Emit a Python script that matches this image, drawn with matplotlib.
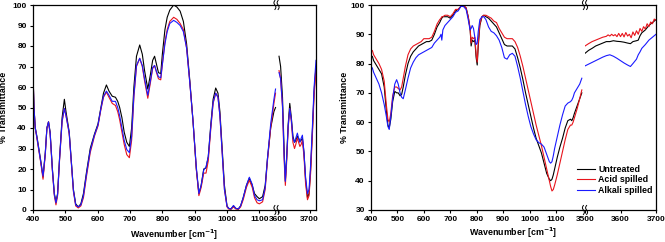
import numpy as np
import matplotlib
matplotlib.use("Agg")
import matplotlib.pyplot as plt
from matplotlib.lines import Line2D

plt.rcParams['font.family'] = ['Liberation Sans', 'DejaVu Sans']
plt.rcParams['font.weight'] = 'bold'
plt.rcParams['mathtext.default'] = 'bf'

# ---------------- Left panel data ----------------
L_wn = [400, 403, 407, 412, 418, 424, 431, 438, 443, 448, 453, 460, 466, 471, 476, 482, 490, 497, 502, 508,
        512, 518, 525, 532, 540, 548, 556, 565, 577, 590, 601, 610, 618, 627, 635, 645, 655, 662, 668, 675,
        682, 690, 698, 705, 712, 720, 730, 738, 745, 755, 763, 770, 776, 782, 788, 795, 800, 808, 815, 823,
        835, 845, 855, 865, 875, 885, 895, 905, 913, 920, 928, 935, 942, 950, 957, 965, 972, 978, 985, 992,
        1000, 1005, 1012, 1020, 1027, 1035, 1042, 1050, 1060, 1069, 1078, 1085, 1093, 1100, 1110, 1118, 1125, 1135, 1145, 1150]
L_black = [67, 50, 40, 36, 30, 24, 16, 28, 40, 43, 38, 20, 8, 4, 8, 25, 45, 54, 48, 42,
           38, 25, 10, 3, 1.5, 3, 8, 18, 30, 37, 42, 50, 57, 61, 58, 55.5, 55, 53, 50, 45,
           38, 33, 31, 40, 60, 75, 80.5, 76, 68, 59, 66, 73, 75, 71, 67, 66.5, 76, 88, 94, 97.5,
           100, 99, 97, 92, 81, 63, 43, 20, 8, 12, 20, 20.5, 26, 42, 54, 59.5, 57, 48, 30, 12,
           2, 0.8, 0.5, 2, 0.8, 0.5, 2, 6, 12, 15.5, 12, 8, 6.5, 5.5, 6.5, 12, 25, 40, 48, 50]
L_red = [67, 50, 40, 35, 29, 23, 15, 27, 40, 43, 37, 19, 7, 2.5, 7, 24, 43, 49.5, 46, 41,
         37, 24, 9, 2, 1, 2, 6, 16, 28, 36, 41, 49, 55, 57.5, 55, 52, 51, 48, 44, 38,
         32, 27, 25.5, 34, 55, 70, 74, 70, 63, 54.5, 62, 69, 70.5, 67, 64, 63.5, 71, 82, 88, 92,
         94, 93, 91, 88, 79, 62, 43, 20, 7, 11, 18, 18, 24, 40, 52, 57, 55, 46, 28, 10,
         1.5, 0.5, 0.3, 1.5, 0.5, 0.3, 1.5, 5, 11, 14.5, 11, 6, 3.5, 3, 4, 10, 24, 40, 52, 57]
L_blue = [67, 50, 40, 35.5, 29.5, 23.5, 16.5, 27.5, 40, 43, 37.5, 19.5, 7.5, 3.5, 7.5, 24.5, 43.5, 49.5, 46, 41,
          37.5, 24.5, 9.5, 2.5, 1.5, 2.5, 7, 17, 29, 36.5, 41.5, 49.5, 55.5, 58, 56, 53, 53, 50, 46, 40,
          34, 29.5, 28, 36, 56, 70.5, 74, 70.5, 64, 56, 63, 69.5, 70.5, 67.5, 65, 64.5, 71, 81, 87, 91,
          92.5, 91.5, 90, 87, 79, 62, 43, 21, 8, 12, 19.5, 21, 26, 41, 52.5, 57, 55, 46, 28, 10,
          1.8, 0.8, 0.5, 2.2, 0.8, 0.5, 2, 6, 12, 16, 12.5, 7, 5, 4.5, 5, 11, 25, 42, 54, 59]

L2_wn = [3603, 3608, 3614, 3619, 3623, 3627, 3632, 3637, 3642, 3647, 3652, 3656, 3661, 3665, 3669, 3673, 3677,
         3682, 3687, 3693, 3698, 3703, 3709, 3714, 3720]
L2_black = [75, 70, 55, 30, 14, 25, 42, 52, 45, 36, 33, 34, 36, 35, 33.5, 34, 35, 28, 15, 6, 8, 20, 40, 58, 70]
L2_red = [68, 64, 50, 25, 12, 23, 40, 49.5, 43, 33, 30, 32, 35, 33, 31, 32, 34, 26, 13, 5, 7, 18, 38, 56, 68]
L2_blue = [67, 64, 51, 27, 14, 25, 41, 49.5, 44, 35, 33, 35, 37.5, 35, 33, 35, 36.5, 28, 16, 8, 10, 22, 42, 60, 73]

# ---------------- Right panel data ----------------
R_wn = [400, 405, 410, 420, 430, 440, 450, 458, 464, 469, 475, 482, 490, 497, 503, 510, 516, 522, 530, 540,
        550, 560, 570, 580, 590, 600, 610, 620, 630, 640, 650, 660, 665, 668, 672, 680, 690, 700, 710, 720,
        730, 740, 750, 760, 768, 775, 779, 783, 788, 793, 798, 802, 806, 812, 820, 827, 835, 845, 855, 865,
        875, 885, 895, 905, 915, 925, 935, 945, 955, 965, 975, 985, 995, 1005, 1015, 1025, 1035, 1045, 1055, 1065,
        1075, 1080, 1085, 1090, 1095, 1105, 1115, 1125, 1135, 1145, 1155, 1160, 1165, 1170, 1180, 1190, 1198]
R_black = [82, 82.5, 81, 79.5, 78, 76.5, 72, 64, 59, 58, 61, 67, 70.5, 70, 70, 69, 69.5, 72, 76, 80,
           82.5, 84, 85, 86, 86.5, 87, 87.5, 87.5, 88, 90, 92.5, 94, 95, 95.5, 96, 96, 96, 95.5, 96.5, 98,
           98.5, 99.5, 99.8, 99, 96, 92, 86, 88, 87.5, 88, 82, 79.5, 86, 93, 96, 96.5, 96, 95.5, 94.5, 93.5,
           92.5, 90.5, 88.5, 86.5, 86, 86, 86, 85, 82, 78.5, 74.5, 70, 66, 62, 58, 54.5, 52, 49.5, 46, 42.5,
           40.5, 40, 40.5, 42, 44, 48, 51.5, 54.5, 58, 60.5, 61, 60.5, 61.5, 63, 65.5, 68, 70]
R_red = [84, 84.5, 83, 81.5, 80, 78, 74, 66, 61, 60, 63, 69, 72, 72, 71.5, 71, 72, 75, 79, 83,
         85, 86, 86.5, 87, 87.5, 88.5, 88.5, 88.5, 89, 91, 93.5, 95, 95.5, 96, 96, 96.5, 96.5, 96, 97, 98.5,
         98.5, 99.5, 100, 99, 96, 92, 87, 89, 88.5, 89, 83, 80.5, 87, 93.5, 96, 96.5, 96.5, 96, 95.5, 94.5,
         94, 92, 90.5, 89, 88.5, 88.5, 88.5, 87.5, 85.5, 82.5, 79, 75, 71, 67, 63, 59, 55.5, 52, 48, 44,
         40, 38, 36.5, 37, 38.5, 42, 46, 50, 54, 57.5, 59, 59, 60, 61.5, 64.5, 68, 71]
R_blue = [79, 78.5, 77, 75, 73, 70, 66, 62, 58.5, 57.5, 62, 68, 73, 74.5, 73, 70, 68.5, 68, 71, 75,
          78.5, 80.5, 82, 83, 83.5, 84, 84.5, 85, 85.5, 87, 88, 89, 90, 88, 91.5, 93, 94, 95, 96, 97.5,
          98, 99.5, 99.5, 98.5, 95, 91.5, 92, 93, 92, 89, 86.5, 87, 91, 95, 96, 96, 95, 92.5, 91, 90.5,
          89.5, 88, 85.5, 82, 81.5, 83, 83.5, 82.5, 79, 75, 70.5, 66, 62, 58.5, 56, 54, 53, 52.5, 51.5, 49,
          46.5, 46, 46.5, 48.5, 51, 55, 59, 62.5, 65.5, 66.5, 67, 67.5, 68.5, 70, 71.5, 73, 75]

R2_wn = [3500, 3510, 3520, 3530, 3540, 3550, 3560, 3570, 3580, 3590, 3600, 3610, 3620, 3628, 3635, 3645,
         3650, 3655, 3660, 3670, 3680, 3690, 3700]
R2_black = [83.5, 84.5, 85.2, 86, 86.5, 87, 87.5, 87.5, 87.8, 87.6, 87.5, 87.3, 87, 86.8, 87.5, 87.8,
            88, 89.5, 90.5, 91.5, 93, 94, 95]
R2_blue = [79.2, 79.8, 80.4, 81, 81.6, 82.2, 82.7, 83, 82.5, 81.8, 81, 80.2, 79.5, 79, 80, 81.5,
           83, 84, 85.2, 86.5, 88, 89, 90]
R2_red_wn = [3500, 3510, 3520, 3530, 3540, 3550, 3560, 3565, 3570, 3575, 3580, 3585, 3590, 3595, 3600,
             3605, 3610, 3615, 3620, 3625, 3630, 3635, 3640, 3645, 3650, 3655, 3660, 3665, 3670, 3675,
             3680, 3685, 3690, 3695, 3700]
R2_red = [86, 86.8, 87.5, 88, 88.5, 89, 89.3, 89.8, 89.4, 90.0, 89.5, 89.9, 89.2, 90.3, 89.2,
          90.3, 89.1, 90.6, 89.4, 90.0, 88.8, 90.8, 89.6, 91.2, 90.0, 92.0, 91.0, 92.6, 91.8, 93.6,
          92.6, 94.2, 93.6, 95.2, 94.8]

labels = ['Untreated', 'Acid spilled', 'Alkali spilled']
colors = ['black', '#e8141c', '#1a1aff']

W, H = 665, 242
fig = plt.figure(figsize=(W / 100, H / 100), dpi=100)


def px_axes(x0, x1, y0=5, y1=210):
    return fig.add_axes([x0 / W, 1 - y1 / H, (x1 - x0) / W, (y1 - y0) / H])


TICK_FS = 6.0
LAB_FS = 6.4
LW = 0.8


def style(ax, left=True):
    for s in ax.spines.values():
        s.set_linewidth(0.9)
    ax.tick_params(direction='out', length=2.5, width=0.8, labelsize=TICK_FS, pad=2)
    for t in ax.get_xticklabels() + ax.get_yticklabels():
        t.set_fontweight('bold')
    if not left:
        ax.spines['left'].set_visible(False)
        ax.tick_params(left=False, labelleft=False)
    else:
        ax.spines['right'].set_visible(False)


def break_mark(xp, yp):
    # small double "S" symbol across the frame
    t = np.linspace(-1, 1, 15)
    for off in (-1.6, 1.6):
        xs = xp + off + 1.0 * np.sin(np.pi * t)
        ys = yp + 4.5 * t
        fig.add_artist(Line2D(xs / W, 1 - ys / H, color='black', lw=0.7, transform=fig.transFigure))


# Left panel
a1 = px_axes(33, 276.5)
a2 = px_axes(276.5, 316)
for ys, c in zip([L_black, L_red, L_blue], colors):
    a1.plot(L_wn, ys, color=c, lw=LW)
for ys, c in zip([L2_black, L2_red, L2_blue], colors):
    a2.plot(L2_wn, ys, color=c, lw=LW)
a1.set_xlim(400, 1153)
a2.set_xlim(3595, 3720)
for a in (a1, a2):
    a.set_ylim(0, 100)
a1.set_xticks([400, 500, 600, 700, 800, 900, 1000, 1100])
a2.set_xticks([3600, 3700])
a1.set_yticks(range(0, 101, 10))
style(a1, True)
style(a2, False)
a1.set_ylabel('% Transmittance', fontsize=LAB_FS, fontweight='bold')
a1.yaxis.set_label_coords(-24.5 / 243.5, 0.5)
break_mark(276.5, 5)
break_mark(276.5, 210)
fig.text(174.5 / W, 1 - 235 / H, 'Wavenumber [cm$^{-1}$]', ha='center', va='center',
         fontsize=LAB_FS, fontweight='bold')

# Right panel
a3 = px_axes(371, 585)
a4 = px_axes(585, 656)
lines = []
for ys, c, lab in zip([R_black, R_red, R_blue], colors, labels):
    ln, = a3.plot(R_wn, ys, color=c, lw=LW, label=lab)
    lines.append(ln)
a4.plot(R2_wn, R2_black, color=colors[0], lw=LW)
a4.plot(R2_red_wn, R2_red, color=colors[1], lw=LW)
a4.plot(R2_wn, R2_blue, color=colors[2], lw=LW)
a3.set_xlim(400, 1210)
a4.set_xlim(3500, 3700)
for a in (a3, a4):
    a.set_ylim(30, 100)
a3.set_xticks([400, 500, 600, 700, 800, 900, 1000, 1100])
a4.set_xticks([3500, 3600, 3700])
a3.set_yticks(range(30, 101, 10))
style(a3, True)
style(a4, False)
a3.set_ylabel('% Transmittance', fontsize=LAB_FS, fontweight='bold')
a3.yaxis.set_label_coords(-22 / 214, 0.5)
break_mark(585, 5)
break_mark(585, 210)
fig.text(513.5 / W, 1 - 233 / H, 'Wavenumber [cm$^{-1}$]', ha='center', va='center',
         fontsize=LAB_FS, fontweight='bold')

leg = fig.legend(handles=lines, labels=labels, loc='upper left',
                 bbox_to_anchor=(577 / W, 1 - 165 / H), frameon=False,
                 prop={'size': LAB_FS, 'weight': 'bold'}, handlelength=2.0,
                 handletextpad=0.4, labelspacing=0.15, borderaxespad=0, borderpad=0)

fig.savefig('out.png', dpi=100)
